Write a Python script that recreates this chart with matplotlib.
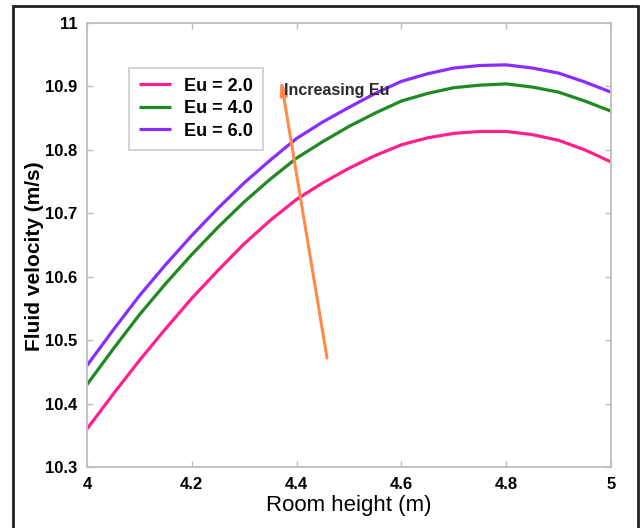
import numpy as np
import matplotlib.pyplot as plt
from matplotlib.patches import Rectangle

plt.rcParams['font.family'] = ['Liberation Sans', 'DejaVu Sans']

# room height (m)
height = [4.0, 4.05, 4.1, 4.15, 4.2, 4.25, 4.3, 4.35, 4.4, 4.45, 4.5,
          4.55, 4.6, 4.65, 4.7, 4.75, 4.8, 4.85, 4.9, 4.95, 5.0]

# fluid velocity (m/s) for each Euler number
v_eu2 = [10.360, 10.415, 10.468, 10.518, 10.566, 10.610, 10.652, 10.689, 10.722, 10.748, 10.771,
         10.791, 10.808, 10.819, 10.826, 10.829, 10.829, 10.824, 10.815, 10.800, 10.781]
v_eu4 = [10.430, 10.486, 10.540, 10.589, 10.635, 10.678, 10.718, 10.754, 10.787, 10.813, 10.837,
         10.858, 10.877, 10.889, 10.898, 10.902, 10.904, 10.899, 10.891, 10.877, 10.861]
v_eu6 = [10.460, 10.516, 10.570, 10.619, 10.665, 10.708, 10.748, 10.784, 10.818, 10.844, 10.867,
         10.889, 10.908, 10.920, 10.929, 10.933, 10.934, 10.929, 10.921, 10.907, 10.891]

labels = ['Eu = 2.0', 'Eu = 4.0', 'Eu = 6.0']
colors = ['#ff1f8e', '#1f8a1f', '#8b2cff']

xticks = [4, 4.2, 4.4, 4.6, 4.8, 5]
xticklabels = ['4', '4.2', '4.4', '4.6', '4.8', '5']
yticks = [10.3, 10.4, 10.5, 10.6, 10.7, 10.8, 10.9, 11]
yticklabels = ['10.3', '10.4', '10.5', '10.6', '10.7', '10.8', '10.9', '11']

fig = plt.figure(figsize=(6.43, 5.28), dpi=100)
ax = fig.add_axes([87/643, 61/528, 524/643, 444/528])

for v, lab, c in zip([v_eu2, v_eu4, v_eu6], labels, colors):
    ax.plot(height, v, color=c, lw=2.3, label=lab, solid_capstyle='butt',
            solid_joinstyle='round')

ax.set_xlim(4, 5)
ax.set_ylim(10.3, 11)
ax.set_xticks(xticks)
ax.set_xticklabels(xticklabels)
ax.set_yticks(yticks)
ax.set_yticklabels(yticklabels)

for s in ax.spines.values():
    s.set_color('#bdbdbd')
    s.set_linewidth(1.3)
ax.tick_params(direction='in', length=4, width=1, color='#bdbdbd',
               top=True, right=True, labelsize=12)
ax.tick_params(axis='x', pad=7)
ax.tick_params(axis='y', pad=7)
for t in ax.get_xticklabels() + ax.get_yticklabels():
    t.set_fontweight('bold')

ax.set_xlabel('Room height (m)', fontsize=16, labelpad=2)
ax.set_ylabel('Fluid velocity (m/s)', fontsize=15, fontweight='bold')
ax.yaxis.set_label_coords(-0.083, 0.475)

leg = ax.legend(loc='upper left', bbox_to_anchor=(0.080, 0.899), fontsize=13,
                frameon=True, fancybox=False, handlelength=1.8,
                handletextpad=0.7, borderpad=0.55, labelspacing=0.3,
                borderaxespad=0)
leg.get_frame().set_edgecolor('#bdbdbd')
leg.get_frame().set_linewidth(1.2)
for t in leg.get_texts():
    t.set_fontweight('bold')

# arrow showing trend
ax.annotate('', xy=(4.370, 10.911), xytext=(4.458, 10.472),
            arrowprops=dict(arrowstyle='-|>,head_length=0.8,head_width=0.2',
                            color='#ff8a4c', lw=2.2, shrinkA=0, shrinkB=0))
ax.text(4.376, 10.894, 'Increasing Eu', fontsize=11.5, fontweight='bold',
        color='#2a2a2a', va='center', ha='left')

# outer frame
fig.patches.append(Rectangle((13/643, -0.05), 625/643, 1 - 6/528 + 0.05,
                             transform=fig.transFigure, fill=False,
                             edgecolor='#222222', lw=2))

fig.savefig('out.png', dpi=100)
